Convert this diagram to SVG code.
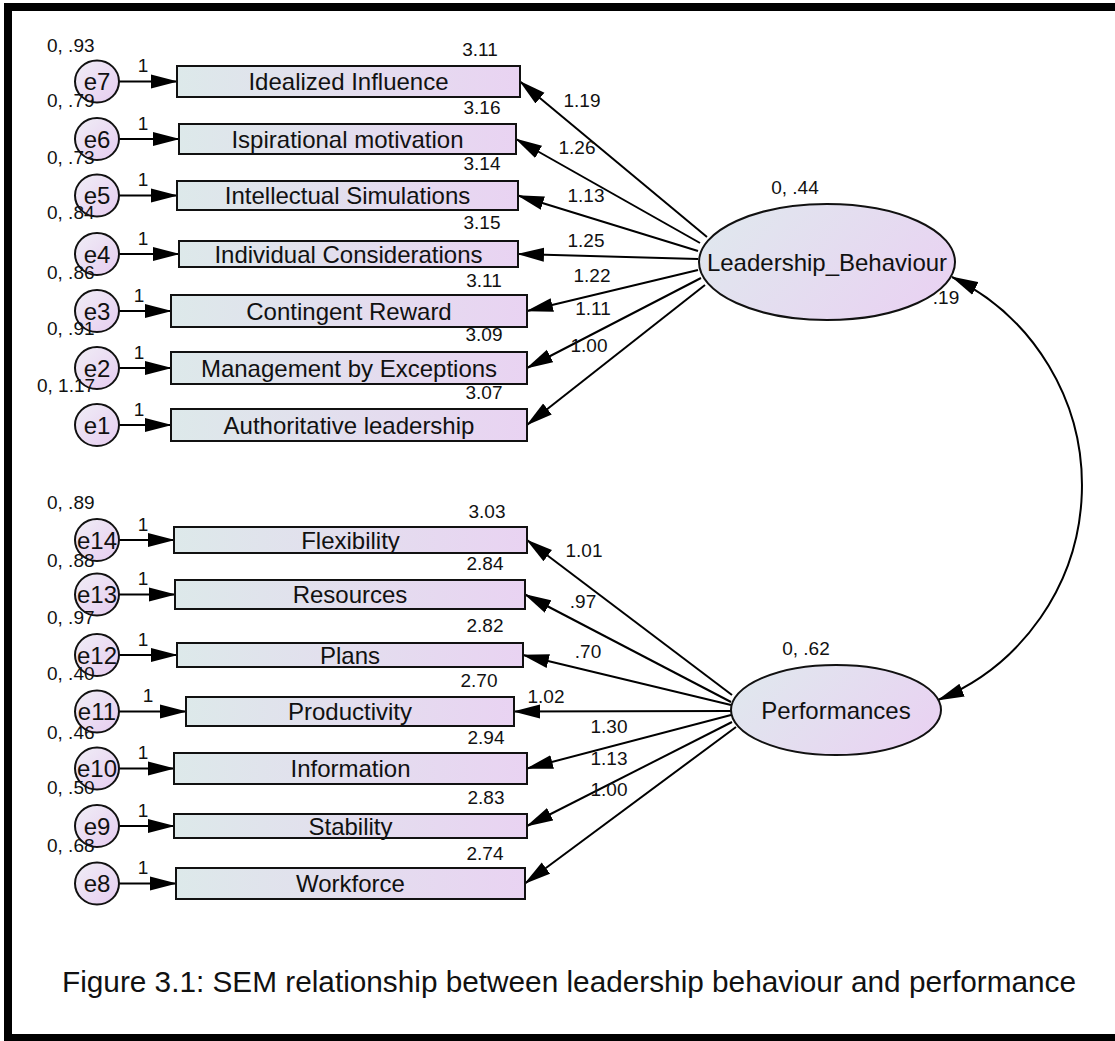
<svg xmlns="http://www.w3.org/2000/svg" width="1115" height="1041" viewBox="0 0 1115 1041">
<style>
text{font-family:"Liberation Sans",Arial,sans-serif;fill:#111}
.big{font-size:24px;text-anchor:middle}
.sm{font-size:19px}
.mid{text-anchor:middle}
.obs{fill:url(#gRect);stroke:#111;stroke-width:2}
.err{fill:url(#gCirc);stroke:#111;stroke-width:2}
.lat{fill:url(#gLat);stroke:#111;stroke-width:2}
.ln{stroke:#000;stroke-width:2;fill:none;marker-end:url(#arr)}
.cov{stroke:#000;stroke-width:2;fill:none;marker-end:url(#arr);marker-start:url(#arrS)}
</style>
<defs>
<linearGradient id="gRect" x1="0" y1="0" x2="1" y2="0">
<stop offset="0" stop-color="#dde9ea"/><stop offset="1" stop-color="#e9d3f2"/>
</linearGradient>
<linearGradient id="gLat" x1="0" y1="0.3" x2="1" y2="0.7">
<stop offset="0" stop-color="#e0e7ee"/><stop offset="1" stop-color="#e9d2f2"/>
</linearGradient>
<linearGradient id="gCirc" x1="0" y1="0" x2="1" y2="1">
<stop offset="0" stop-color="#f0eef6"/><stop offset="1" stop-color="#e6ccf0"/>
</linearGradient>
<marker id="arr" markerUnits="userSpaceOnUse" markerWidth="27" markerHeight="15" viewBox="0 0 27 15" refX="26" refY="7.5" orient="auto">
<path d="M0,0.5 L27,7.5 L0,14.5 z" fill="#000"/>
</marker>
<marker id="arrS" markerUnits="userSpaceOnUse" markerWidth="27" markerHeight="15" viewBox="0 0 27 15" refX="26" refY="7.5" orient="auto-start-reverse">
<path d="M0,0.5 L27,7.5 L0,14.5 z" fill="#000"/>
</marker>
</defs>
<rect width="1115" height="1041" fill="#fff"/>
<g id="frame" fill="#000">
<rect x="4" y="3" width="1111" height="8"/>
<rect x="4" y="3" width="8" height="1038"/>
<rect x="4" y="1034" width="1111" height="7"/>
</g>

<g id="connectors">
<line class="ln" x1="119" y1="81.5" x2="177" y2="81.5"/>
<line class="ln" x1="119" y1="139" x2="179" y2="139"/>
<line class="ln" x1="119" y1="195.5" x2="177" y2="195.5"/>
<line class="ln" x1="119" y1="254" x2="179" y2="254"/>
<line class="ln" x1="119" y1="311" x2="171" y2="311"/>
<line class="ln" x1="119" y1="368" x2="171" y2="368"/>
<line class="ln" x1="119" y1="425" x2="171" y2="425"/>
<line class="ln" x1="119" y1="540" x2="174" y2="540"/>
<line class="ln" x1="119" y1="594.5" x2="175" y2="594.5"/>
<line class="ln" x1="119" y1="655" x2="177" y2="655"/>
<line class="ln" x1="119" y1="711.5" x2="186" y2="711.5"/>
<line class="ln" x1="119" y1="768.5" x2="174" y2="768.5"/>
<line class="ln" x1="119" y1="826" x2="174" y2="826"/>
<line class="ln" x1="119" y1="883.5" x2="176" y2="883.5"/>

<line class="ln" x1="707" y1="237" x2="520" y2="81.5"/>
<line class="ln" x1="700" y1="243" x2="516" y2="139"/>
<line class="ln" x1="698" y1="251" x2="518" y2="195.5"/>
<line class="ln" x1="698" y1="259" x2="518" y2="254"/>
<line class="ln" x1="698" y1="270" x2="527" y2="311"/>
<line class="ln" x1="701" y1="278" x2="527" y2="368"/>
<line class="ln" x1="705" y1="285" x2="527" y2="425"/>

<line class="ln" x1="732" y1="695" x2="527" y2="540"/>
<line class="ln" x1="731" y1="702" x2="525" y2="594.5"/>
<line class="ln" x1="731" y1="705" x2="523" y2="655"/>
<line class="ln" x1="731" y1="711" x2="514" y2="711.5"/>
<line class="ln" x1="731" y1="715" x2="527" y2="768.5"/>
<line class="ln" x1="732" y1="722" x2="527" y2="826"/>
<line class="ln" x1="736" y1="727" x2="525" y2="883.5"/>

<path class="cov" d="M952,277 A232,232 0 0,1 938,700"/>
</g>

<g id="labels-paths" class="sm">
<text x="143" y="72" class="mid">1</text>
<text x="143" y="130" class="mid">1</text>
<text x="143" y="186" class="mid">1</text>
<text x="143" y="245" class="mid">1</text>
<text x="139" y="302" class="mid">1</text>
<text x="139" y="359" class="mid">1</text>
<text x="139" y="416" class="mid">1</text>
<text x="143" y="531" class="mid">1</text>
<text x="143" y="585" class="mid">1</text>
<text x="143" y="646" class="mid">1</text>
<text x="148" y="702" class="mid">1</text>
<text x="143" y="759" class="mid">1</text>
<text x="143" y="817" class="mid">1</text>
<text x="143" y="874" class="mid">1</text>

<text x="582" y="107" class="mid">1.19</text>
<text x="577" y="154" class="mid">1.26</text>
<text x="586" y="202" class="mid">1.13</text>
<text x="586" y="247" class="mid">1.25</text>
<text x="592" y="282" class="mid">1.22</text>
<text x="593" y="315" class="mid">1.11</text>
<text x="589" y="352" class="mid">1.00</text>

<text x="584" y="557" class="mid">1.01</text>
<text x="583" y="608" class="mid">.97</text>
<text x="588" y="658" class="mid">.70</text>
<text x="546" y="703" class="mid">1.02</text>
<text x="609" y="733" class="mid">1.30</text>
<text x="609" y="765" class="mid">1.13</text>
<text x="609" y="796" class="mid">1.00</text>

<text x="946" y="304" class="mid">.19</text>
</g>

<g id="e7"><ellipse class="err" cx="97" cy="81.5" rx="22" ry="21"/><text class="big" x="97" y="90">e7</text><text class="sm" x="47" y="52">0, .93</text></g>
<g id="e6"><ellipse class="err" cx="97" cy="139" rx="22" ry="21"/><text class="big" x="97" y="147.5">e6</text><text class="sm" x="47" y="107">0, .79</text></g>
<g id="e5"><ellipse class="err" cx="97" cy="195.5" rx="22" ry="21"/><text class="big" x="97" y="204">e5</text><text class="sm" x="47" y="164">0, .73</text></g>
<g id="e4"><ellipse class="err" cx="97" cy="254" rx="22" ry="21"/><text class="big" x="97" y="262.5">e4</text><text class="sm" x="47" y="219">0, .84</text></g>
<g id="e3"><ellipse class="err" cx="97" cy="311" rx="22" ry="21"/><text class="big" x="97" y="319.5">e3</text><text class="sm" x="47" y="279">0, .86</text></g>
<g id="e2"><ellipse class="err" cx="97" cy="368" rx="22" ry="21"/><text class="big" x="97" y="376.5">e2</text><text class="sm" x="47" y="335">0, .91</text></g>
<g id="e1"><ellipse class="err" cx="97" cy="425" rx="22" ry="21"/><text class="big" x="97" y="433.5">e1</text><text class="sm" x="37" y="392">0, 1.17</text></g>

<g id="e14"><ellipse class="err" cx="97" cy="540" rx="22" ry="21"/><text class="big" x="97" y="548.5">e14</text><text class="sm" x="47" y="509">0, .89</text></g>
<g id="e13"><ellipse class="err" cx="97" cy="594.5" rx="22" ry="21"/><text class="big" x="97" y="603">e13</text><text class="sm" x="47" y="567">0, .88</text></g>
<g id="e12"><ellipse class="err" cx="97" cy="655" rx="22" ry="21"/><text class="big" x="97" y="663.5">e12</text><text class="sm" x="47" y="624">0, .97</text></g>
<g id="e11"><ellipse class="err" cx="97" cy="711.5" rx="22" ry="21"/><text class="big" x="97" y="720">e11</text><text class="sm" x="47" y="680">0, .40</text></g>
<g id="e10"><ellipse class="err" cx="97" cy="768.5" rx="22" ry="21"/><text class="big" x="97" y="777">e10</text><text class="sm" x="47" y="739">0, .46</text></g>
<g id="e9"><ellipse class="err" cx="97" cy="826" rx="22" ry="21"/><text class="big" x="97" y="834.5">e9</text><text class="sm" x="47" y="794">0, .50</text></g>
<g id="e8"><ellipse class="err" cx="97" cy="883.5" rx="22" ry="21"/><text class="big" x="97" y="892">e8</text><text class="sm" x="47" y="852">0, .68</text></g>

<g id="idealized"><rect class="obs" x="177" y="66" width="343" height="31"/><text class="big" x="348.5" y="90">Idealized Influence</text><text class="sm mid" x="480" y="56">3.11</text></g>
<g id="ispirational"><rect class="obs" x="179" y="124" width="337" height="30"/><text class="big" x="347.5" y="147.5">Ispirational motivation</text><text class="sm mid" x="482" y="114">3.16</text></g>
<g id="intellectual"><rect class="obs" x="177" y="181" width="341" height="29"/><text class="big" x="347.5" y="204">Intellectual Simulations</text><text class="sm mid" x="482" y="170">3.14</text></g>
<g id="individual"><rect class="obs" x="179" y="241" width="339" height="26"/><text class="big" x="348.5" y="262.5">Individual Considerations</text><text class="sm mid" x="482" y="229">3.15</text></g>
<g id="contingent"><rect class="obs" x="171" y="295" width="356" height="32"/><text class="big" x="349" y="319.5">Contingent Reward</text><text class="sm mid" x="484" y="287">3.11</text></g>
<g id="management"><rect class="obs" x="171" y="352" width="356" height="32"/><text class="big" x="349" y="376.5">Management by Exceptions</text><text class="sm mid" x="484" y="341">3.09</text></g>
<g id="authoritative"><rect class="obs" x="171" y="409" width="356" height="32"/><text class="big" x="349" y="433.5">Authoritative leadership</text><text class="sm mid" x="484" y="399">3.07</text></g>

<g id="flexibility"><rect class="obs" x="174" y="527" width="353" height="26"/><text class="big" x="350.5" y="548.5">Flexibility</text><text class="sm mid" x="487" y="518">3.03</text></g>
<g id="resources"><rect class="obs" x="175" y="580" width="350" height="29"/><text class="big" x="350" y="603">Resources</text><text class="sm mid" x="485" y="570">2.84</text></g>
<g id="plans"><rect class="obs" x="177" y="643" width="346" height="24"/><text class="big" x="350" y="663.5">Plans</text><text class="sm mid" x="485" y="632">2.82</text></g>
<g id="productivity"><rect class="obs" x="186" y="697" width="328" height="29"/><text class="big" x="350" y="720">Productivity</text><text class="sm mid" x="479" y="687">2.70</text></g>
<g id="information"><rect class="obs" x="174" y="753" width="353" height="31"/><text class="big" x="350.5" y="777">Information</text><text class="sm mid" x="486" y="744">2.94</text></g>
<g id="stability"><rect class="obs" x="174" y="814" width="353" height="24"/><text class="big" x="350.5" y="834.5">Stability</text><text class="sm mid" x="486" y="804">2.83</text></g>
<g id="workforce"><rect class="obs" x="176" y="868" width="349" height="31"/><text class="big" x="350.5" y="892">Workforce</text><text class="sm mid" x="485" y="860">2.74</text></g>

<g id="leadership"><ellipse class="lat" cx="827" cy="262" rx="128" ry="58"/><text class="big" x="827" y="270.5">Leadership_Behaviour</text><text class="sm mid" x="795" y="194">0, .44</text></g>
<g id="performances"><ellipse class="lat" cx="836" cy="710" rx="105" ry="45"/><text class="big" x="836" y="718.5">Performances</text><text class="sm mid" x="806" y="655">0, .62</text></g>

<text id="caption" x="569" y="992" font-size="30" text-anchor="middle" textLength="1014" lengthAdjust="spacingAndGlyphs">Figure 3.1: SEM relationship between leadership behaviour and performance</text>
</svg>
